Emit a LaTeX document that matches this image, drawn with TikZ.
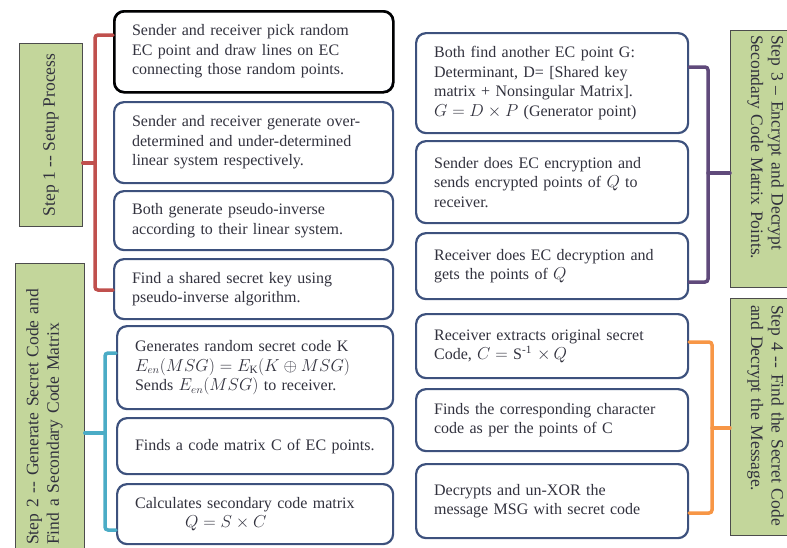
\documentclass[tikz,border=0pt]{standalone}
\usepackage{fontspec}
\setmainfont{Liberation Serif}
\definecolor{boxblue}{RGB}{61,81,125}
\definecolor{brred}{RGB}{192,80,77}
\definecolor{brcyan}{RGB}{75,172,198}
\definecolor{brpurple}{RGB}{96,74,123}
\definecolor{brorange}{RGB}{247,150,70}
\definecolor{labgreen}{RGB}{195,214,155}
\definecolor{txt}{RGB}{50,50,62}
\tikzset{
  stepbox/.style={draw=boxblue, line width=2.2pt, fill=white, rounded corners=10pt,
    text=txt, align=left, inner xsep=18pt, inner ysep=0pt,
    font=\fontsize{16}{19.5}\selectfont},
  labbox/.style={draw=black!70, line width=0.8pt, fill=labgreen},
  labtext/.style={text=txt, align=left, font=\fontsize{17.5}{20.5}\selectfont, inner sep=0pt},
  brace/.style={line width=3.5pt, rounded corners=3pt, line cap=round}
}
\newcommand{\lbox}[5]{% name, x, top, bottom, text
  \node[stepbox, minimum height={#4-#3}, text width={279-36-(#2-113)}, anchor=north west] (#1) at (#2,#3) {#5};}
\newcommand{\rbox}[4]{%
  \node[stepbox, minimum height={#3-#2}, text width=236pt, anchor=north west] (#1) at (415,#2) {#4};}
\begin{document}
\begin{tikzpicture}[x=1pt,y=-1pt]
\useasboundingbox (0,0) rectangle (787,547);
% left column
\lbox{a1}{113}{10}{91}{Sender and receiver pick random\\EC point and draw lines on EC\\connecting those random points.}
\node[draw=black, line width=2.6pt, rounded corners=10pt, minimum width=279pt, minimum height=81pt, anchor=north west] (a1b) at (113,10) {};
\lbox{a2}{113}{101}{182}{Sender and receiver generate over-\\determined and under-determined\\linear system respectively.}
\lbox{a3}{113}{190}{249}{Both generate pseudo-inverse\\according to their linear system.}
\lbox{a4}{113}{258}{318}{Find a shared secret key using\\pseudo-inverse algorithm.}
\lbox{a5}{116}{325}{408}{Generates random secret code K\\$E_{en}(MSG)=E_{\mathrm{K}}(K\oplus MSG)$\\Sends $E_{en}(MSG)$ to receiver.}
\lbox{a6}{116}{417}{473}{Finds a code matrix C of EC points.}
\lbox{a7}{116}{483}{543}{Calculates secondary code matrix\\\hspace*{50pt}$Q=S\times C$}
% right column
\rbox{b1}{32}{132}{Both find another EC point G:\\Determinant, D= [Shared key\\matrix + Nonsingular Matrix].\\$G=D\times P$ (Generator point)}
\rbox{b2}{140}{222}{Sender does EC encryption and\\sends encrypted points of $Q$ to\\receiver.}
\rbox{b3}{232}{298}{Receiver does EC decryption and\\gets the points of $Q$}
\rbox{b4}{313}{377}{Receiver extracts original secret\\Code, $C=$ S\textsuperscript{-1} $\times\, Q$}
\rbox{b5}{388}{450}{Finds the corresponding character\\code as per the points of C}
\rbox{b6}{463}{537}{Decrypts and un-XOR the\\message MSG with secret code}
% label boxes
\node[labbox, minimum width=63pt, minimum height=183pt, anchor=north west] (s1) at (19,43) {};
\node[labtext, rotate=90] at (s1.center) {Step 1 -{}- Setup Process};
\node[labbox, minimum width=69pt, minimum height=290pt, anchor=north west] (s2) at (15,263) {};
\node[labtext, rotate=90, anchor=north west, text width=275pt] at (26,545) {Step 2 -{}- Generate Secret Code and\\Find a Secondary Code Matrix};
\node[labbox, minimum width=62pt, minimum height=257pt, anchor=north west] (s3) at (730,30) {};
\node[labtext, rotate=-90, anchor=north west, text width=250pt] at (784,35) {Step 3 -- Encrypt and Decrypt\\Secondary Code Matrix Points.};
\node[labbox, minimum width=62pt, minimum height=237pt, anchor=north west] (s4) at (730,298) {};
\node[labtext, rotate=-90, anchor=north west, text width=230pt] at (784,305) {Step 4 -{}- Find the Secret Code\\and Decrypt the Message.};
% brackets
\draw[brace, brred] (a1.west |- 0,35) -- (95,35) -- (95,290) -- (a4.west |- 0,290);
\draw[brace, brred, rounded corners=0pt] (s1.east |- 0,163) -- (95,163);
\draw[brace, brcyan] (a5.west |- 0,353) -- (105,353) -- (105,530) -- (a7.west |- 0,530);
\draw[brace, brcyan, rounded corners=0pt] (s2.east |- 0,433) -- (105,433);
\draw[brace, brpurple] (b1.east |- 0,67) -- (708,67) -- (708,282) -- (b3.east |- 0,282);
\draw[brace, brpurple, rounded corners=0pt] (708,173) -- (s3.west |- 0,173);
\draw[brace, brorange] (b4.east |- 0,342) -- (712,342) -- (712,513) -- (b6.east |- 0,513);
\draw[brace, brorange, rounded corners=0pt] (712,428) -- (s4.west |- 0,428);
\end{tikzpicture}
\end{document}
